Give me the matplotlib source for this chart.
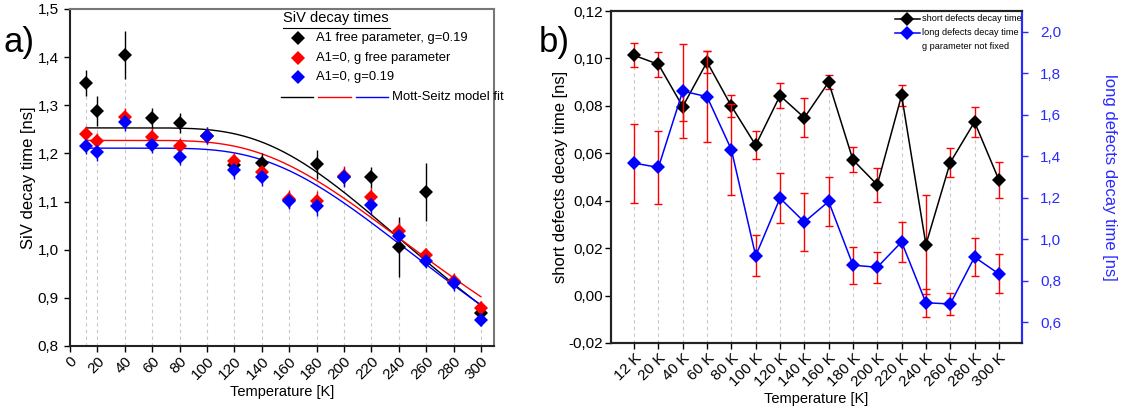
import numpy as np
import matplotlib
matplotlib.use("Agg")
import matplotlib.pyplot as plt
from matplotlib.lines import Line2D
from matplotlib.ticker import FuncFormatter, MultipleLocator

# ---------------- panel a): SiV decay times vs temperature ----------------
temps = [12, 20, 40, 60, 80, 100, 120, 140, 160, 180, 200, 220, 240, 260, 280, 300]

tau_a1_free = [1.346, 1.288, 1.404, 1.273, 1.263, 1.236, 1.176, 1.181,
               1.103, 1.177, 1.152, 1.150, 1.005, 1.120, 0.932, 0.868]
err_a1_free = [0.027, 0.032, 0.050, 0.022, 0.021, 0.014, 0.014, 0.019,
               0.014, 0.030, 0.014, 0.021, 0.062, 0.061, 0.010, 0.010]

tau_g_free = [1.240, 1.226, 1.276, 1.234, 1.215, 1.237, 1.185, 1.162,
              1.105, 1.102, 1.153, 1.110, 1.038, 0.989, 0.936, 0.878]
err_g_free = [0.017, 0.017, 0.018, 0.018, 0.017, 0.018, 0.018, 0.018,
              0.019, 0.019, 0.020, 0.019, 0.020, 0.015, 0.015, 0.015]

tau_g_fixed = [1.216, 1.202, 1.265, 1.218, 1.193, 1.237, 1.166, 1.150,
               1.102, 1.091, 1.150, 1.093, 1.029, 0.977, 0.930, 0.855]
err_g_fixed = [0.018, 0.018, 0.018, 0.018, 0.018, 0.018, 0.020, 0.017,
               0.018, 0.020, 0.020, 0.020, 0.020, 0.014, 0.015, 0.014]

# Mott-Seitz model: tau(T) = tau0 / (1 + C * exp(-Ea / (kB T)))
KB_MEV = 0.08617
fit_tau0 = [1.253, 1.227, 1.211]
fit_C = [5.07, 3.96, 4.64]
fit_Ea = [64.6, 62.0, 65.5]   # meV
fit_colors = ["black", "#ff0000", "#0000ff"]

# ---------------- panel b): defect decay times ----------------
temp_labels = ["12 K", "20 K", "40 K", "60 K", "80 K", "100 K", "120 K", "140 K",
               "160 K", "180 K", "200 K", "220 K", "240 K", "260 K", "280 K", "300 K"]
short_tau = [0.1013, 0.0975, 0.0797, 0.0985, 0.0799, 0.0634, 0.0843, 0.0750,
             0.0900, 0.0572, 0.0467, 0.0844, 0.0215, 0.0561, 0.0732, 0.0488]
short_err = [0.0050, 0.0053, 0.0060, 0.0048, 0.0048, 0.0060, 0.0053, 0.0082,
             0.0030, 0.0053, 0.0073, 0.0046, 0.0210, 0.0060, 0.0064, 0.0077]
long_tau = [1.367, 1.346, 1.714, 1.687, 1.432, 0.920, 1.198, 1.083,
            1.182, 0.875, 0.865, 0.987, 0.694, 0.688, 0.914, 0.833]
long_err = [0.190, 0.174, 0.227, 0.218, 0.220, 0.099, 0.120, 0.140,
            0.120, 0.090, 0.075, 0.097, 0.068, 0.053, 0.090, 0.094]

FONT = "Liberation Sans"
DROP_COLOR = "#c8c8c8"
BLUE_AXIS = "#2a2aff"
XLABEL_SIZE = 10.5
YLABEL_SIZE = 12
TICK_SIZE = 11


def comma_fmt(decimals):
    return FuncFormatter(lambda v, _: f"{v:.{decimals}f}".replace(".", ","))


plt.rcParams["font.family"] = [FONT, "DejaVu Sans"]

fig = plt.figure(figsize=(11.30, 4.12), dpi=100)
axa = fig.add_axes([0.0619, 0.1602, 0.3752, 0.8180])
axb = fig.add_axes([0.5407, 0.1675, 0.3637, 0.8058])

# ---------------- panel a ----------------
axa.set_xlim(0, 309.5)
axa.set_ylim(0.8, 1.5)
axa.vlines(temps, 0.8, tau_a1_free, colors=DROP_COLOR, linestyles=(0, (3, 3)),
           linewidth=0.8, zorder=0)

T = np.linspace(12, 300, 300)
for tau0, c, ea, col in zip(fit_tau0, fit_C, fit_Ea, fit_colors):
    axa.plot(T, tau0 / (1 + c * np.exp(-ea / (KB_MEV * T))), color=col,
             linewidth=1.0, zorder=2)

series_a = [(tau_a1_free, err_a1_free, "black"),
            (tau_g_free, err_g_free, "#ff0000"),
            (tau_g_fixed, err_g_fixed, "#0000ff")]
for vals, errs, col in series_a:
    axa.errorbar(temps, vals, yerr=errs, fmt="D", color=col, ecolor=col,
                 markersize=7.6, elinewidth=1.0, capsize=3.2, capthick=1.0,
                 markeredgewidth=0, zorder=3)

axa.xaxis.set_major_locator(MultipleLocator(20))
axa.yaxis.set_major_locator(MultipleLocator(0.1))
axa.yaxis.set_major_formatter(comma_fmt(1))
axa.tick_params(direction="out", length=4, width=1.0, labelsize=TICK_SIZE)
axa.tick_params(axis="x", pad=2)
axa.tick_params(axis="y", pad=4)
plt.setp(axa.get_xticklabels(), rotation=45, ha="right", rotation_mode="anchor")
axa.set_xlabel("Temperature [K]", fontsize=XLABEL_SIZE, labelpad=2)
axa.set_ylabel("SiV decay time [ns]", fontsize=YLABEL_SIZE, labelpad=1)
for side in ["left", "bottom"]:
    axa.spines[side].set_linewidth(1.5)
    axa.spines[side].set_color("#222222")
for side in ["top", "right"]:
    axa.spines[side].set_linewidth(1.5)
    axa.spines[side].set_color("#777777")

# legend of panel a
tr = axa.transAxes
axa.text(0.502, 0.973, "SiV decay times", transform=tr, fontsize=10.5,
         va="center", ha="left")
axa.add_line(Line2D([0.502, 0.755], [0.944, 0.944], transform=tr,
                    color="black", linewidth=0.8))
legend_rows = [("A1 free parameter, g=0.19", "black", 0.914),
               ("A1=0, g free parameter", "#ff0000", 0.855),
               ("A1=0, g=0.19", "#0000ff", 0.798)]
for text, col, yy in legend_rows:
    axa.add_line(Line2D([0.538], [yy], transform=tr, marker="D", color=col,
                        markersize=7.6, markeredgewidth=0, linestyle="none"))
    axa.text(0.580, yy, text, transform=tr, fontsize=9.4, va="center", ha="left")
for (x0, x1), col in zip([(0.498, 0.573), (0.585, 0.663), (0.675, 0.750)],
                         fit_colors):
    axa.add_line(Line2D([x0, x1], [0.739, 0.739], transform=tr, color=col,
                        linewidth=1.0))
axa.text(0.759, 0.739, "Mott-Seitz model fit", transform=tr, fontsize=9.4,
         va="center", ha="left")

fig.text(0.0027, 0.896, "a)", fontsize=25, va="center", ha="left")
fig.text(0.477, 0.896, "b)", fontsize=25, va="center", ha="left")

# ---------------- panel b ----------------
xpos = np.arange(len(temp_labels))
axb.set_xlim(-0.95, 15.95)
axb.set_ylim(-0.02, 0.12)
axb.vlines(xpos, -0.02, short_tau, colors=DROP_COLOR, linestyles=(0, (3, 3)),
           linewidth=0.8, zorder=0)
axb.errorbar(xpos, short_tau, yerr=short_err, fmt="none", ecolor="#ff0000",
             elinewidth=1.0, capsize=3.0, capthick=1.0, zorder=2)
axb.plot(xpos, short_tau, color="black", marker="D", markersize=7.2,
         markeredgewidth=0, linewidth=1.1, zorder=3)

axr = axb.twinx()
axr.set_ylim(0.5, 2.1)
axr.errorbar(xpos, long_tau, yerr=long_err, fmt="none", ecolor="#ff0000",
             elinewidth=1.0, capsize=3.0, capthick=1.0, zorder=2)
axr.plot(xpos, long_tau, color="#0000ff", marker="D", markersize=7.2,
         markeredgewidth=0, linewidth=1.1, zorder=3)

axb.set_xticks(xpos)
axb.set_xticklabels(temp_labels)
axb.yaxis.set_major_locator(MultipleLocator(0.02))
axb.yaxis.set_major_formatter(comma_fmt(2))
axr.set_yticks([0.6, 0.8, 1.0, 1.2, 1.4, 1.6, 1.8, 2.0])
axr.yaxis.set_major_formatter(comma_fmt(1))
axb.tick_params(direction="out", length=4, width=1.0, labelsize=TICK_SIZE, pad=2)
axr.tick_params(direction="out", length=4, width=1.0, labelsize=TICK_SIZE, pad=9,
                colors=BLUE_AXIS)
plt.setp(axb.get_xticklabels(), rotation=45, ha="right", rotation_mode="anchor")
axb.set_xlabel("Temperature [K]", fontsize=XLABEL_SIZE, labelpad=2)
axb.set_ylabel("short defects decay time [ns]", fontsize=YLABEL_SIZE,
               labelpad=0)
fig.text(0.982, 0.570, "long defects decay time [ns]", fontsize=YLABEL_SIZE,
         color=BLUE_AXIS, rotation=-90, va="center", ha="center")
for ax in (axb, axr):
    for side in ["left", "bottom", "top"]:
        ax.spines[side].set_linewidth(1.5)
        ax.spines[side].set_color("#222222")
    ax.spines["right"].set_linewidth(1.5)
    ax.spines["right"].set_color(BLUE_AXIS)

# legend of panel b
trb = axb.transAxes
for text, col, yy in [("short defects decay time", "black", 0.976),
                      ("long defects decay time", "#0000ff", 0.934)]:
    axr.add_line(Line2D([0.690, 0.752], [yy, yy], transform=trb, color=col,
                        linewidth=1.1))
    axr.add_line(Line2D([0.721], [yy], transform=trb, marker="D", color=col,
                        markersize=7.2, markeredgewidth=0, linestyle="none"))
    axr.text(0.757, yy, text, transform=trb, fontsize=6.6, va="center", ha="left")
axr.text(0.757, 0.892, "g parameter not fixed", transform=trb, fontsize=6.6,
         va="center", ha="left")

fig.savefig("out.png", dpi=100)
